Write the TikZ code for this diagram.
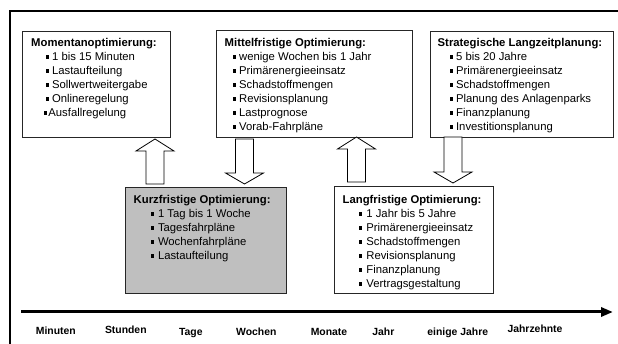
\documentclass[tikz,border=0pt]{standalone}
\usepackage{fontspec}
\setmainfont{Liberation Sans}
\usetikzlibrary{arrows.meta}

% bullet item: indent, gap after the square bullet, text
\newcommand\bitem[3]{\hspace*{#1pt}\rule[2.4pt]{3.2pt}{3.2pt}\hspace{#2pt}#3}

% hollow block arrow: centre x, tail y, tip y, head base y
\newcommand\blockarrow[4]{%
  \draw[blockarr] (#1-9,#2) -- (#1-9,#4) -- (#1-19,#4) -- (#1,#3)
    -- (#1+19,#4) -- (#1+9,#4) -- (#1+9,#2) -- cycle;}

\tikzset{
  box/.style={draw=black!85, line width=0.8pt, fill=white, inner sep=0pt,
    anchor=north west},
  shaded/.style={box, fill=black!25},
  % lists are placed by the baseline of their last line
  list/.style={inner sep=0pt, align=left, anchor=base west,
    font=\fontsize{11.3}{14}\selectfont},
  blockarr/.style={draw=black, line width=0.8pt, fill=white, line join=miter},
  tick/.style={inner sep=0pt, anchor=base, font=\fontsize{10.4}{12}\selectfont\bfseries},
  frame/.style={line width=2pt},
  axis/.style={line width=3pt, -{Triangle[length=12pt,width=9pt]}}
}

\begin{document}
\begin{tikzpicture}[x=1pt,y=-1pt]
\useasboundingbox (0,0) rectangle (618,344);

% outer frame (left and top edges)
\draw[frame] (10,344) -- (10,11) -- (618,11);

% planning levels
\node[box, minimum width=148pt, minimum height=106pt] (moment) at (22,31) {};
\node[box, minimum width=196pt, minimum height=107pt] (mittel) at (216,30) {};
\node[box, minimum width=183pt, minimum height=106pt] (strat) at (430,31) {};
\node[shaded, minimum width=161pt, minimum height=106pt] (kurz) at (125,187) {};
\node[box, minimum width=159pt, minimum height=107pt] (lang) at (334,186) {};

\node[list] (moment-text) at (31,117) {\textbf{Momentanoptimierung:}\\
  \bitem{14.5}{3.2}{1 bis 15 Minuten}\\
  \bitem{14.5}{3.2}{Lastaufteilung}\\
  \bitem{14.5}{3.2}{Sollwertweitergabe}\\
  \bitem{14.5}{3.2}{Onlineregelung}\\
  \bitem{13}{1}{Ausfallregelung}};

\node[list] (mittel-text) at (224.5,131) {\textbf{Mittelfristige Optimierung:}\\
  \bitem{8}{3.2}{wenige Wochen bis 1 Jahr}\\
  \bitem{8}{3.2}{Primärenergieeinsatz}\\
  \bitem{8}{3.2}{Schadstoffmengen}\\
  \bitem{8}{3.2}{Revisionsplanung}\\
  \bitem{8}{3.2}{Lastprognose}\\
  \bitem{8}{3.2}{Vorab-Fahrpläne}};

\node[list] (strat-text) at (437.5,131) {\textbf{Strategische Langzeitplanung:}\\
  \bitem{12}{3.2}{5 bis 20 Jahre}\\
  \bitem{12}{3.2}{Primärenergieeinsatz}\\
  \bitem{12}{3.2}{Schadstoffmengen}\\
  \bitem{12}{3.2}{Planung des Anlagenparks}\\
  \bitem{12}{3.2}{Finanzplanung}\\
  \bitem{12}{3.2}{Investitionsplanung}};

\node[list] (kurz-text) at (133.5,260) {\textbf{Kurzfristige Optimierung:}\\
  \bitem{17.5}{3.6}{1 Tag bis 1 Woche}\\
  \bitem{17.5}{3.6}{Tagesfahrpläne}\\
  \bitem{17.5}{3.6}{Wochenfahrpläne}\\
  \bitem{17.5}{3.6}{Lastaufteilung}};

\node[list] (lang-text) at (342.5,288) {\textbf{Langfristige Optimierung:}\\
  \bitem{16}{4.5}{1 Jahr bis 5 Jahre}\\
  \bitem{16}{4.5}{Primärenergieeinsatz}\\
  \bitem{16}{4.5}{Schadstoffmengen}\\
  \bitem{16}{4.5}{Revisionsplanung}\\
  \bitem{16}{4.5}{Finanzplanung}\\
  \bitem{16}{4.5}{Vertragsgestaltung}};

% information flow between the levels
\blockarrow{155}{184}{139}{151}
\blockarrow{244.5}{139}{184}{173}
\blockarrow{356.5}{182}{137}{149}
\blockarrow{453}{137}{183}{172}

% time axis
\coordinate (axis-start) at (21,312);
\coordinate (axis-end) at (613,312);
\draw[axis] (axis-start) -- (axis-end);

\node[tick] (t1) at (55.8,334.5) {Minuten};
\node[tick] (t2) at (125.8,334) {Stunden};
\node[tick] (t3) at (190.8,335.5) {Tage};
\node[tick] (t4) at (256.3,335) {Wochen};
\node[tick] (t5) at (329,335) {Monate};
\node[tick] (t6) at (383.4,336) {Jahr};
\node[tick] (t7) at (457.8,335) {einige Jahre};
\node[tick] (t8) at (535,333) {Jahrzehnte};
\end{tikzpicture}
\end{document}
